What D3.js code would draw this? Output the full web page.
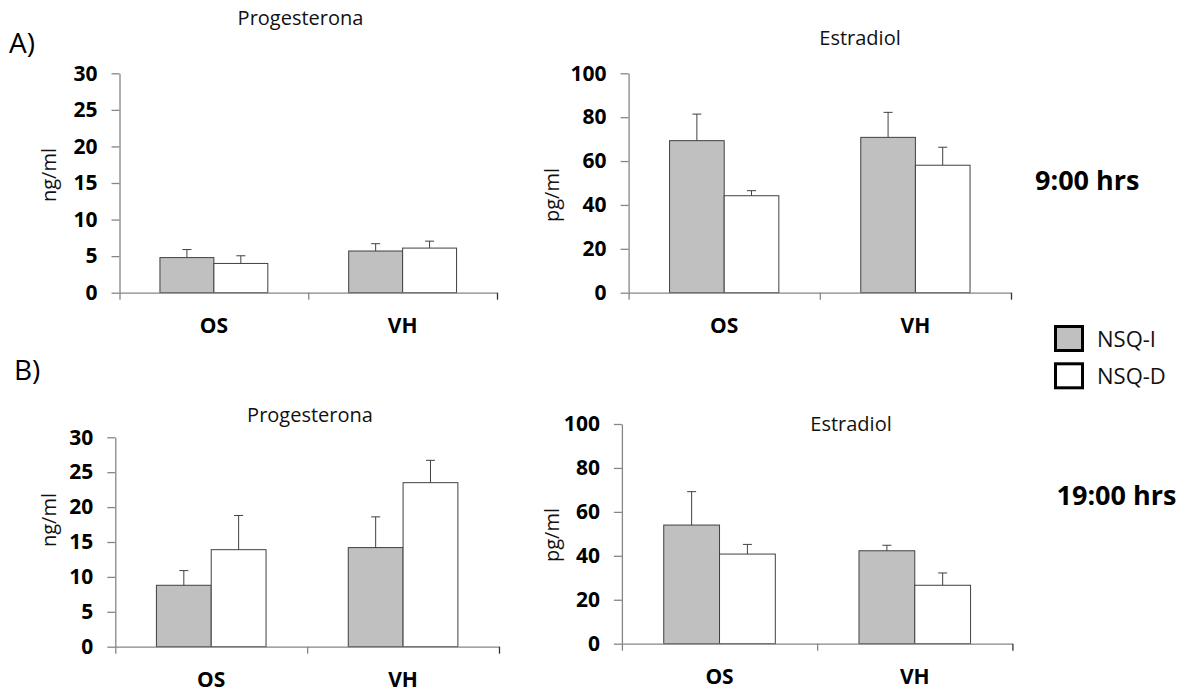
<!DOCTYPE html>
<html>
<head>
<meta charset="utf-8">
<script src="https://cdn.jsdelivr.net/npm/d3@7"></script>
<style>
  html, body { margin: 0; padding: 0; background: #fff; }
  svg { display: block; font-family: "Open Sans", sans-serif; }
</style>
</head>
<body>
<svg id="chart" width="1183" height="692"></svg>
<script>
// ---- data ----
const categories = ["OS", "VH"];
const seriesNames = ["NSQ-I", "NSQ-D"];

// 9:00 hrs
const prog9I = [4.8, 5.7];
const prog9Isem = [1.1, 1.0];
const prog9D = [4.0, 6.1];
const prog9Dsem = [1.05, 0.95];
const estr9I = [69.3, 70.8];
const estr9Isem = [12.1, 11.4];
const estr9D = [44.2, 58.1];
const estr9Dsem = [2.3, 8.2];

// 19:00 hrs
const prog19I = [8.8, 14.2];
const prog19Isem = [2.1, 4.4];
const prog19D = [13.9, 23.5];
const prog19Dsem = [4.9, 3.2];
const estr19I = [54.0, 42.3];
const estr19Isem = [15.2, 2.5];
const estr19D = [40.8, 26.6];
const estr19Dsem = [4.4, 5.6];

const progTicks = [0, 5, 10, 15, 20, 25, 30];
const estrTicks = [0, 20, 40, 60, 80, 100];

const colors = { "NSQ-I": "#c0c0c0", "NSQ-D": "#ffffff" };

const svg = d3.select("#chart");

function drawPanel(p) {
  const g = svg.append("g");
  const y = d3.scaleLinear().domain([0, p.max]).range([p.y0, p.yTop]);
  const xCat = d3.scaleBand().domain(categories).range([p.x0, p.x1]).paddingInner(0).paddingOuter(0);
  const xSer = d3.scaleBand().domain(seriesNames).range([0, xCat.bandwidth()]).paddingInner(0).paddingOuter(0.75);

  const seriesData = [
    { name: "NSQ-I", vals: p.meansI, sems: p.semI },
    { name: "NSQ-D", vals: p.meansD, sems: p.semD }
  ];
  const rows = [];
  seriesData.forEach(s => categories.forEach((c, i) => rows.push({ s: s.name, c, v: s.vals[i], e: s.sems[i] })));

  g.selectAll("rect.bar").data(rows).enter().append("rect")
    .attr("class", "bar")
    .attr("x", d => xCat(d.c) + xSer(d.s))
    .attr("width", xSer.bandwidth())
    .attr("y", d => y(d.v))
    .attr("height", d => y(0) - y(d.v))
    .attr("fill", d => colors[d.s])
    .attr("stroke", "#404040")
    .attr("stroke-width", 1);

  const eb = g.selectAll("g.err").data(rows).enter().append("g").attr("class", "err")
    .attr("stroke", "#404040").attr("stroke-width", 1);
  eb.append("line")
    .attr("x1", d => xCat(d.c) + xSer(d.s) + xSer.bandwidth() / 2)
    .attr("x2", d => xCat(d.c) + xSer(d.s) + xSer.bandwidth() / 2)
    .attr("y1", d => y(d.v))
    .attr("y2", d => y(d.v + d.e));
  eb.append("line")
    .attr("x1", d => xCat(d.c) + xSer(d.s) + xSer.bandwidth() / 2 - 4.5)
    .attr("x2", d => xCat(d.c) + xSer(d.s) + xSer.bandwidth() / 2 + 4.5)
    .attr("y1", d => y(d.v + d.e))
    .attr("y2", d => y(d.v + d.e));

  // y axis
  const ya = g.append("g").attr("transform", `translate(${p.x0},0)`)
    .call(d3.axisLeft(y).tickValues(p.ticks).tickSize(8).tickSizeOuter(0).tickPadding(14));
  ya.selectAll("text").attr("font-family", "Open Sans").attr("font-weight", "bold")
    .attr("font-size", 21).attr("fill", "#000");
  ya.selectAll("line, path").attr("stroke", "#868686").attr("stroke-width", 1.3);

  // x axis: ticks at category boundaries
  const xb = d3.scaleLinear().domain([0, categories.length]).range([p.x0, p.x1]);
  const xa = g.append("g").attr("transform", `translate(0,${p.y0})`)
    .call(d3.axisBottom(xb).tickValues(d3.range(categories.length + 1)).tickSize(7).tickSizeOuter(0).tickFormat(""));
  xa.selectAll("line, path").attr("stroke", "#868686").attr("stroke-width", 1.3);
  xa.selectAll("line").filter((d, i, n) => i === n.length - 1).attr("stroke", "#333");

  // category labels
  g.selectAll("text.cat").data(categories).enter().append("text")
    .attr("class", "cat")
    .attr("x", c => xCat(c) + xCat.bandwidth() / 2)
    .attr("y", p.y0 + 40)
    .attr("text-anchor", "middle")
    .attr("font-weight", "bold").attr("font-size", 21)
    .text(c => c);

  // title
  g.append("text").attr("x", p.titleX).attr("y", p.titleY)
    .attr("text-anchor", "middle").attr("font-size", 20).attr("fill", "#111")
    .text(p.title);

  // y label
  g.append("text")
    .attr("transform", `translate(${p.ylabelX},${p.ylabelY}) rotate(-90)`)
    .attr("text-anchor", "middle").attr("dominant-baseline", "central")
    .attr("font-size", 20).attr("fill", "#111")
    .text(p.ylabel);
}

drawPanel({ x0: 119.5, x1: 497, yTop: 73.3, y0: 292.7, max: 30, ticks: progTicks,
  meansI: prog9I, semI: prog9Isem, meansD: prog9D, semD: prog9Dsem,
  title: "Progesterona", titleX: 300.5, titleY: 25, ylabel: "ng/ml", ylabelX: 48, ylabelY: 175 });
drawPanel({ x0: 628.6, x1: 1011, yTop: 73.3, y0: 292.7, max: 100, ticks: estrTicks,
  meansI: estr9I, semI: estr9Isem, meansD: estr9D, semD: estr9Dsem,
  title: "Estradiol", titleX: 860, titleY: 45, ylabel: "pg/ml", ylabelX: 551.7, ylabelY: 195 });
drawPanel({ x0: 115.3, x1: 499, yTop: 437.3, y0: 646.7, max: 30, ticks: progTicks,
  meansI: prog19I, semI: prog19Isem, meansD: prog19D, semD: prog19Dsem,
  title: "Progesterona", titleX: 310, titleY: 421.7, ylabel: "ng/ml", ylabelX: 48, ylabelY: 520 });
drawPanel({ x0: 621.9, x1: 1012.4, yTop: 424, y0: 643.7, max: 100, ticks: estrTicks,
  meansI: estr19I, semI: estr19Isem, meansD: estr19D, semD: estr19Dsem,
  title: "Estradiol", titleX: 851, titleY: 430.7, ylabel: "pg/ml", ylabelX: 551.7, ylabelY: 535 });

// panel letters
svg.append("text").attr("x", 9).attr("y", 53).attr("font-size", 28).text("A)");
svg.append("text").attr("x", 14).attr("y", 380).attr("font-size", 28).text("B)");

// time labels
svg.append("text").attr("x", 1035).attr("y", 189.5).attr("font-size", 27).attr("font-weight", "bold").text("9:00 hrs");
svg.append("text").attr("x", 1056.5).attr("y", 505).attr("font-size", 27).attr("font-weight", "bold").text("19:00 hrs");

// legend
const legendRows = [
  { name: seriesNames[0], y: 325 },
  { name: seriesNames[1], y: 362.3 }
];
const lg = svg.append("g");
lg.selectAll("rect").data(legendRows).enter().append("rect")
  .attr("x", 1055.5).attr("y", d => d.y + 1.5).attr("width", 27).attr("height", 24)
  .attr("fill", d => colors[d.name]).attr("stroke", "#000").attr("stroke-width", 3);
lg.selectAll("text").data(legendRows).enter().append("text")
  .attr("x", 1097).attr("y", d => d.y + 21.5).attr("font-size", 22).attr("fill", "#111")
  .text(d => d.name);
</script>
</body>
</html>
